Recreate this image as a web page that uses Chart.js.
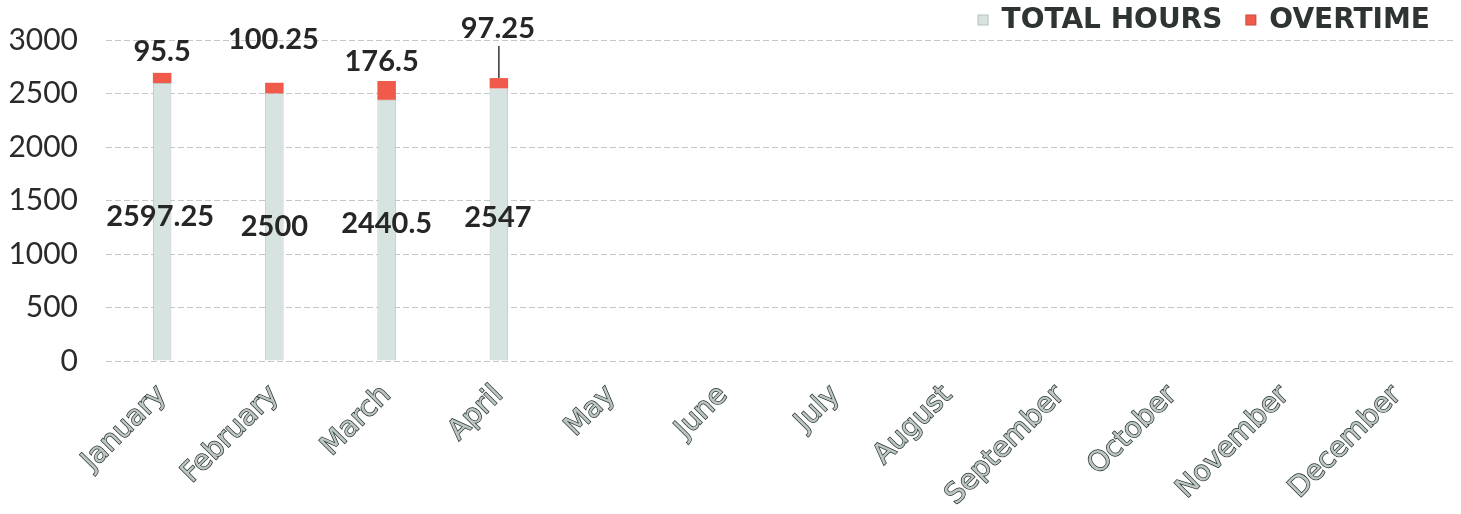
<!DOCTYPE html>
<html>
<head>
<meta charset="utf-8">
<script src="https://cdn.jsdelivr.net/npm/chart.js@4/dist/chart.umd.min.js"></script>
<style>
  html, body { margin: 0; padding: 0; background: #ffffff; }
  #wrap { width: 1461px; height: 514px; position: relative; }
</style>
</head>
<body>
<div id="wrap"><canvas id="c" width="1461" height="514"></canvas></div>
<script>
// Monthly hours, one row per month
const months = ['January', 'February', 'March', 'April', 'May', 'June',
  'July', 'August', 'September', 'October', 'November', 'December'];
const totalHours = [2597.25, 2500, 2440.5, 2547, null, null, null, null, null, null, null, null];
const overtime = [95.5, 100.25, 176.5, 97.25, null, null, null, null, null, null, null, null];
const yTicks = [0, 500, 1000, 1500, 2000, 2500, 3000];

// Hand-placed label nudges (dx, dy in px) per month
const totalNudge = [[-2, -5], [0, 0], [0, -7], [-1, -7]];
const overNudge = [[0, -21], [-1, -43], [-5, -19], [-1, -49]];

const labelFont = 'bold 29px Lato, "Open Sans", sans-serif';

const valueLabels = {
  id: 'valueLabels',
  afterDatasetsDraw(chart) {
    const ctx = chart.ctx;
    ctx.save();
    ctx.font = labelFont;
    ctx.fillStyle = '#262626';
    ctx.textAlign = 'center';
    ctx.textBaseline = 'middle';
    const m0 = chart.getDatasetMeta(0);
    const m1 = chart.getDatasetMeta(1);
    m0.data.forEach((bar, i) => {
      if (totalHours[i] == null) return;
      const n = totalNudge[i] || [0, 0];
      const cy = (bar.y + bar.base) / 2;
      ctx.fillText(String(totalHours[i]), bar.x + n[0], cy + n[1]);
    });
    m1.data.forEach((bar, i) => {
      if (overtime[i] == null) return;
      const n = overNudge[i] || [0, 0];
      const lx = bar.x + n[0];
      const ly = bar.y + n[1];
      ctx.fillText(String(overtime[i]), lx, ly);
      if (i === 3) {
        // leader line from the label down to the bar top
        ctx.strokeStyle = '#333';
        ctx.lineWidth = 1.5;
        ctx.beginPath();
        ctx.moveTo(bar.x, ly + 17);
        ctx.lineTo(bar.x, bar.y);
        ctx.stroke();
      }
    });
    ctx.restore();
  }
};

// Compact legend in the top-right corner, built from the dataset labels/colours
const topLegend = {
  id: 'topLegend',
  afterDraw(chart) {
    const ctx = chart.ctx;
    const box = 11, gap = 13, itemGap = 23, rightEdge = 1430, cy = 20;
    ctx.save();
    ctx.font = 'bold 28px "DejaVu Sans", Verdana, sans-serif';
    ctx.textBaseline = 'middle';
    ctx.textAlign = 'left';
    const items = chart.data.datasets.map(ds => ({
      text: ds.label, color: ds.backgroundColor, w: ctx.measureText(ds.label).width
    }));
    let total = items.reduce((s, it) => s + box + gap + it.w, 0) + itemGap * (items.length - 1);
    let x = rightEdge - total;
    items.forEach(it => {
      ctx.fillStyle = it.color;
      ctx.fillRect(x, cy - box / 2, box, box);
      ctx.strokeStyle = 'rgba(0,0,0,0.15)';
      ctx.lineWidth = 1;
      ctx.strokeRect(x + 0.5, cy - box / 2 + 0.5, box - 1, box - 1);
      x += box + gap;
      ctx.fillStyle = '#2e3432';
      ctx.fillText(it.text, x, cy + 1);
      x += it.w + itemGap;
    });
    ctx.restore();
  }
};

new Chart(document.getElementById('c'), {
  type: 'bar',
  data: {
    labels: months,
    datasets: [
      {
        label: 'TOTAL HOURS',
        data: totalHours,
        backgroundColor: '#d7e3e0',
        borderColor: '#b7c5c1',
        borderWidth: 1,
        barPercentage: 0.165,
        categoryPercentage: 1
      },
      {
        label: 'OVERTIME',
        data: overtime,
        backgroundColor: '#f05a4b',
        borderColor: '#f05a4b',
        borderWidth: 0,
        barPercentage: 0.165,
        categoryPercentage: 1
      }
    ]
  },
  options: {
    responsive: false,
    animation: false,
    devicePixelRatio: 1,
    layout: { padding: { left: 0, right: 8, top: 40, bottom: 0 } },
    plugins: {
      tooltip: { enabled: false },
      legend: { display: false }
    },
    scales: {
      x: {
        stacked: true,
        grid: { display: false, drawTicks: false },
        border: { display: false },
        ticks: {
          minRotation: 45,
          maxRotation: 45,
          autoSkip: false,
          padding: 18,
          color: '#bcc7c2',
          textStrokeColor: '#26302d',
          textStrokeWidth: 1.4,
          font: { family: '"DejaVu Sans", Verdana, sans-serif', size: 28 }
        },
        afterFit(scale) { scale.height = 153; }
      },
      y: {
        stacked: true,
        min: 0,
        max: 3000,
        afterBuildTicks(scale) { scale.ticks = yTicks.map(v => ({ value: v })); },
        grid: {
          color: '#c3c9c9',
          lineWidth: 1,
          drawTicks: true,
          tickLength: 24,
          tickColor: 'rgba(0,0,0,0)'
        },
        border: { display: false, dash: [6, 3] },
        ticks: {
          padding: 4,
          color: '#2a2a2a',
          font: { family: 'Lato, "Open Sans", sans-serif', size: 30 },
          callback: (v) => String(v)
        },
        afterFit(scale) { scale.width = 106; }
      }
    }
  },
  plugins: [valueLabels, topLegend]
});
</script>
</body>
</html>
